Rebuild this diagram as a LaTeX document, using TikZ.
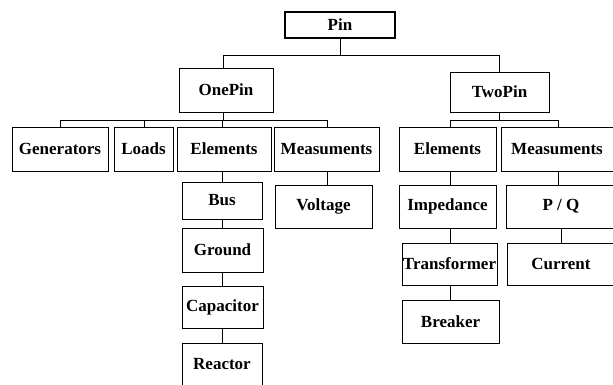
\documentclass[tikz,border=0pt]{standalone}
\usepackage{fontspec}
\setmainfont{Liberation Serif}
\begin{document}
\begin{tikzpicture}[x=1pt,y=-1pt,
  box/.style={draw, line width=1pt, inner sep=0pt, anchor=center,
    font=\fontsize{17}{18}\selectfont\bfseries},
  rootbox/.style={box, line width=2.4pt},
  link/.style={line width=1pt}]
\clip (0,0) rectangle (613,384);
% root and second level
\node[rootbox, minimum width=110pt, minimum height=26pt] (pin) at (340,25) {Pin};
\node[box, minimum width=94pt, minimum height=44pt] (onepin) at (226,90) {OnePin};
\node[box, minimum width=99pt, minimum height=40pt] (twopin) at (499.5,92) {TwoPin};
% third level
\node[box, minimum width=96pt, minimum height=44pt] (gen) at (60,149) {Generators};
\node[box, minimum width=59pt, minimum height=44pt] (loads) at (143.5,149) {Loads};
\node[box, minimum width=94pt, minimum height=44pt] (elA) at (224,149) {Elements};
\node[box, minimum width=105pt, minimum height=44pt] (measA) at (326.5,149) {Measuments};
\node[box, minimum width=97pt, minimum height=44pt] (elB) at (447.5,149) {Elements};
\node[box, minimum width=112pt, minimum height=44pt] (measB) at (557,149) {Measuments};
% OnePin elements chain
\node[box, minimum width=80pt, minimum height=37pt] (bus) at (222,200.5) {Bus};
\node[box, minimum width=81pt, minimum height=44pt] (ground) at (222.5,250) {Ground};
\node[box, minimum width=81pt, minimum height=42pt] (cap) at (222.5,307) {Capacitor};
\node[box, minimum width=80pt, minimum height=42pt] (reac) at (222,364) {Reactor};
\node[box, minimum width=97pt, minimum height=43pt] (volt) at (323.5,206.5) {Voltage};
% TwoPin chains
\node[box, minimum width=97pt, minimum height=43pt] (imp) at (447.5,206.5) {Impedance};
\node[box, minimum width=95pt, minimum height=42pt] (trans) at (449.5,264) {Transformer};
\node[box, minimum width=97pt, minimum height=43pt] (brk) at (450.5,321.5) {Breaker};
\node[box, minimum width=110pt, minimum height=43pt] (pq) at (561,206.5) {P / Q};
\node[box, minimum width=108pt, minimum height=42pt] (cur) at (561,264) {Current};
% connectors
\draw[link] (pin.south) -- ++(0,16) -| ([xshift=-3pt]onepin.north);
\draw[link] (pin.south) -- ++(0,16) -| (twopin.north);
\draw[link] ([xshift=-3pt]onepin.south) -- ++(0,8) -| (gen.north);
\draw[link] ([xshift=-3pt]onepin.south) -- ++(0,8) -| ([xshift=0.5pt]loads.north);
\draw[link] ([xshift=-3pt]onepin.south) -- ++(0,8) -| ([xshift=-2pt]elA.north);
\draw[link] ([xshift=-3pt]onepin.south) -- ++(0,8) -| ([xshift=0.5pt]measA.north);
\draw[link] (twopin.south) -- ++(0,8) -| ([xshift=2.5pt]elB.north);
\draw[link] (twopin.south) -- ++(0,8) -| ([xshift=1pt]measB.north);
\draw[link] (bus.north) -- (bus.north |- elA.south);
\draw[link] (bus.south) -- (bus.south |- ground.north);
\draw[link] (bus.south |- ground.south) -- (bus.south |- cap.north);
\draw[link] (bus.south |- cap.south) -- (reac.north);
\draw[link] ([xshift=0.5pt]measA.south) -- ([xshift=0.5pt]measA.south |- volt.north);
\draw[link] ([xshift=2.5pt]elB.south) -- ([xshift=2.5pt]imp.north);
\draw[link] ([xshift=2.5pt]imp.south) -- ([xshift=0.5pt]trans.north);
\draw[link] ([xshift=0.5pt]trans.south) -- ([xshift=-0.5pt]brk.north);
\draw[link] ([xshift=1pt]measB.south) -- ([xshift=-3pt]pq.north);
\draw[link] (pq.south) -- (cur.north);
\end{tikzpicture}
\end{document}
